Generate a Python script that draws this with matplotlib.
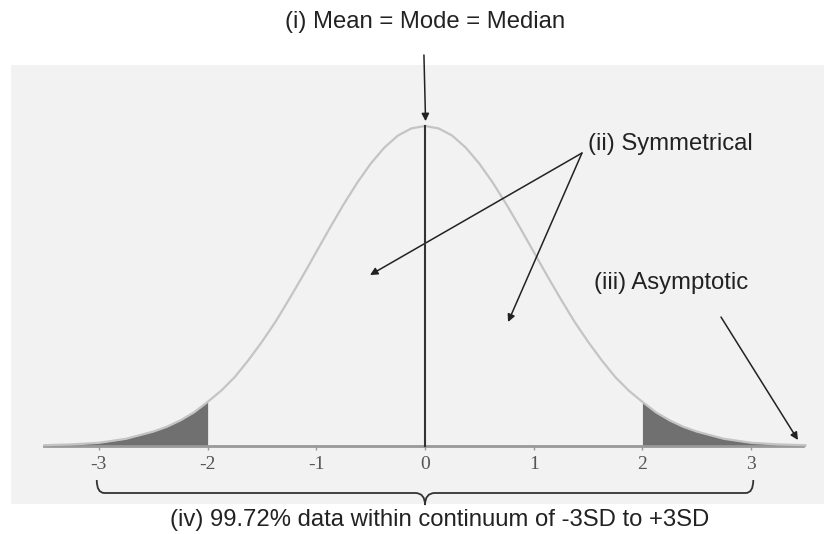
import numpy as np
import matplotlib
matplotlib.use('Agg')
import matplotlib.pyplot as plt
from matplotlib.path import Path
from matplotlib.patches import PathPatch

plt.rcParams['axes.unicode_minus'] = False

# curve heights (one side, mirrored for the other)
half_x = [0.0, 0.125, 0.25, 0.375, 0.5, 0.625, 0.75, 0.875, 1.0, 1.125, 1.25, 1.375,
          1.5, 1.625, 1.75, 1.875, 2.0, 2.125, 2.25, 2.375, 2.5, 2.75, 3.0, 3.25, 3.5]
half_density = [0.399, 0.396, 0.387, 0.372, 0.352, 0.328, 0.301, 0.272, 0.242, 0.212,
                0.183, 0.155, 0.130, 0.107, 0.086, 0.069, 0.055, 0.042, 0.032, 0.024,
                0.018, 0.009, 0.004, 0.002, 0.001]
tick_values = [-3, -2, -1, 0, 1, 2, 3]
tick_labels = ['-3', '-2', '-1', '0', '1', '2', '3']
tail_cut = 2.0

x = np.concatenate([-np.array(half_x[:0:-1]), half_x])
y = np.concatenate([half_density[:0:-1], half_density])

fig = plt.figure(figsize=(8.24, 5.34), dpi=100)
ax = fig.add_axes([0.01335, 0.0562, 0.9867, 0.822])
ax.set_facecolor('#f2f2f2')
ax.set_xlim(-3.809, 3.671)
ax.set_ylim(-0.0723, 0.475)

# curve and shaded tails
ax.plot(x, y, color='#c4c4c4', lw=1.6, zorder=3)
left = x <= -tail_cut
right = x >= tail_cut
ax.fill_between(x[left], y[left], color='#707070', lw=0, zorder=2)
ax.fill_between(x[right], y[right], color='#707070', lw=0, zorder=2)

# baseline axis
for s in ['top', 'left', 'right']:
    ax.spines[s].set_visible(False)
ax.spines['bottom'].set_position(('data', 0))
ax.spines['bottom'].set_bounds(-3.51, 3.48)
ax.spines['bottom'].set_color('#999999')
ax.spines['bottom'].set_linewidth(2)
ax.set_yticks([])
ax.set_xticks(tick_values)
ax.set_xticklabels(tick_labels, family='Liberation Serif', fontsize=14)
ax.tick_params(axis='x', direction='out', length=3, width=1, color='#999999',
               labelcolor='#555555', pad=4)

font = dict(fontsize=17.2, family='Liberation Sans', color='#222222')

# (i) mean line
ax.plot([0, 0], [0, y.max()], color='#333333', lw=1.5, zorder=4)
arrow = dict(arrowstyle='-|>', color='#222222', lw=1.1, mutation_scale=11,
             shrinkA=0, shrinkB=0)
ax.annotate('', xy=(0.005, 0.405), xytext=(-0.01, 0.4875), arrowprops=arrow,
            annotation_clip=False)
ax.text(0, 0.5287, '(i) Mean = Mode = Median', ha='center', va='center', **font)

# (ii) symmetrical
ax.annotate('', xy=(-0.506, 0.2132), xytext=(1.444, 0.3653), arrowprops=arrow)
ax.annotate('', xy=(0.764, 0.1546), xytext=(1.444, 0.3653), arrowprops=arrow)
ax.text(1.50, 0.3766, '(ii) Symmetrical', ha='left', va='center', **font)

# (iii) asymptotic
ax.annotate('', xy=(3.431, 0.0075), xytext=(2.723, 0.1608), arrowprops=arrow)
ax.text(1.555, 0.2032, '(iii) Asymptotic', ha='left', va='center', **font)

# (iv) brace under -3 .. +3
top, mid, tip = -0.0424, -0.0586, -0.0736
verts = [(-3.02, top), (-3.02, mid), (-2.95, mid),
         (-0.09, mid),
         (0, mid), (0, tip),
         (0, mid), (0.09, mid),
         (2.95, mid),
         (3.02, mid), (3.02, top)]
codes = [Path.MOVETO, Path.CURVE3, Path.CURVE3,
         Path.LINETO,
         Path.CURVE3, Path.CURVE3,
         Path.CURVE3, Path.CURVE3,
         Path.LINETO,
         Path.CURVE3, Path.CURVE3]
ax.add_patch(PathPatch(Path(verts, codes), facecolor='none', edgecolor='#333333',
                       lw=1.3, clip_on=False))
ax.text(0.133, -0.0923, '(iv) 99.72% data within continuum of -3SD to +3SD',
        ha='center', va='center', **font)

fig.savefig('out.png', dpi=100, facecolor='white')
